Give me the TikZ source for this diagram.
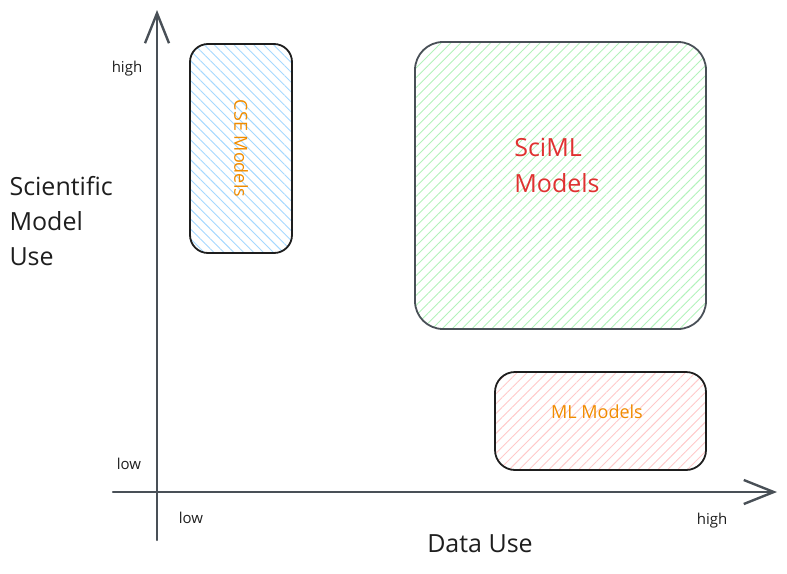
\documentclass[tikz,border=0pt]{standalone}
\usepackage{fontspec}
\setmainfont{Open Sans}
\usetikzlibrary{arrows.meta,patterns.meta}
\definecolor{ink}{HTML}{1E1E1E}
\definecolor{axisgray}{HTML}{495057}
\definecolor{hblue}{HTML}{A5D8FF}
\definecolor{hgreen}{HTML}{B2F2BB}
\definecolor{hred}{HTML}{FFC9C9}
\definecolor{txtorange}{HTML}{F08C00}
\definecolor{txtred}{HTML}{E03131}
\begin{document}
\begin{tikzpicture}[x=1pt,y=-1pt,
  axis/.style={draw=axisgray,line width=2.4pt,line cap=round,
    -{Straight Barb[length=30pt,width=24pt,line width=2.4pt]}},
  quad/.style={draw=ink,line width=1.8pt,inner sep=0pt},
  hatch/.style={pattern={Lines[angle=#1,distance=7pt,line width=0.9pt]}},
  tick/.style={text=ink,font=\fontsize{15}{18}\selectfont},
  title/.style={text=ink,font=\fontsize{25}{35}\selectfont}]
  \useasboundingbox (0,0) rectangle (787,573);
  % quadrants
  \node[quad,hatch=-45,pattern color=hblue,rounded corners=18pt,
    minimum width=102pt,minimum height=209pt] (cse) at (241,148.5) {};
  \node[quad,draw=axisgray,hatch=45,pattern color=hgreen,rounded corners=28pt,
    minimum width=291pt,minimum height=287pt] (sciml) at (560.5,185.5) {};
  \node[quad,hatch=45,pattern color=hred,rounded corners=20pt,
    minimum width=211pt,minimum height=98pt] (ml) at (600.5,421) {};
  \node[rotate=-90,text=txtorange,font=\fontsize{18}{20}\selectfont]
    (csetxt) at (cse) {CSE Models};
  \node[align=left,text=txtred,font=\fontsize{25}{36}\selectfont]
    (scimltxt) at (557,165) {SciML\\Models};
  \node[text=txtorange,font=\fontsize{18}{20}\selectfont]
    (mltxt) at (597,412) {ML Models};
  % axes
  \coordinate (ybot) at (157,540);
  \coordinate (ytop) at (157,10);
  \coordinate (xleft) at (113,492);
  \coordinate (xright) at (777,492);
  \draw[axis] (ybot) -- (ytop);
  \draw[axis] (xleft) -- (xright);
  % labels
  \node[tick] (yhigh) at (127,69) {high};
  \node[tick] (ylow) at (129,464) {low};
  \node[tick] (xlow) at (191,518) {low};
  \node[tick] (xhigh) at (712,521) {high};
  \node[title] (xtitle) at (480,544) {Data Use};
  \node[title,align=left,anchor=west] (ytitle) at (6,221) {Scientific\\Model\\Use};
\end{tikzpicture}
\end{document}
